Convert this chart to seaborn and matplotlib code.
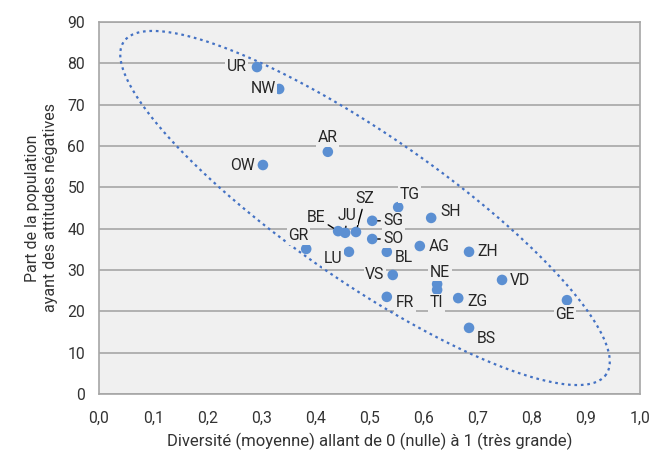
import numpy as np
import pandas as pd
import matplotlib
matplotlib.use("Agg")
import matplotlib.pyplot as plt
import seaborn as sns

# Données (cantons)
cantons = ["UR", "NW", "AR", "OW", "TG", "SH", "SG", "SZ", "JU", "BE", "SO", "GR",
           "LU", "BL", "AG", "ZH", "VS", "NE", "TI", "FR", "ZG", "VD", "GE", "BS"]
diversite = [0.292, 0.333, 0.423, 0.303, 0.553, 0.614, 0.505, 0.475, 0.455, 0.442,
             0.505, 0.383, 0.462, 0.532, 0.593, 0.684, 0.543, 0.625, 0.625, 0.532,
             0.664, 0.745, 0.865, 0.684]
attitudes_neg = [79.1, 73.8, 58.6, 55.4, 45.2, 42.6, 41.9, 39.2, 39.0, 39.4,
                 37.5, 35.1, 34.4, 34.4, 35.8, 34.4, 28.8, 26.6, 25.2, 23.5,
                 23.2, 27.6, 22.7, 16.0]

x_ticks = np.arange(0, 1.01, 0.1)
y_ticks = np.arange(0, 91, 10)

# décalage des étiquettes (pixels) et traits de rappel
offsets = {
    "UR": (-20, 1), "NW": (-16, 0), "AR": (0, 14), "OW": (-20, 0), "TG": (11, 13),
    "SH": (19, 6), "SG": (21, 0), "SZ": (9, 33), "JU": (2, 17), "BE": (-22, 14),
    "SO": (21, 0), "GR": (-8, 13), "LU": (-16, -7), "BL": (17, -6), "AG": (19, 0),
    "ZH": (19, 0), "VS": (-18, 0), "NE": (3, 12), "TI": (-1, -13), "FR": (18, -6),
    "ZG": (19, -3), "VD": (18, -1), "GE": (-2, -14), "BS": (17, -11),
}
leaders = {"SG", "SO", "SZ", "JU", "BE"}

df = pd.DataFrame({"canton": cantons, "x": diversite, "y": attitudes_neg})

sns.set_style("white")
plt.rcParams["font.family"] = ["Roboto", "DejaVu Sans"]

bg = "#f0f0f0"
grid_c = "#a6a6a6"
txt_c = "#333333"
dot_c = "#5b8fd2"

fig = plt.figure(figsize=(6.55, 4.54), dpi=100)
ax = fig.add_axes([99 / 655, 60 / 454, 541 / 655, 372 / 454])
ax.set_facecolor(bg)

sns.scatterplot(data=df, x="x", y="y", ax=ax, color=dot_c, s=58, edgecolor="none", zorder=3)

# ellipse pointillée (définie en pixels : centre, demi-axes, angle)
sx, sy = 541.0, 372.0 / 90.0
cx, cy = 0.4917, 45.0
a_px, b_px, ang = 293.0, 73.6, np.deg2rad(34.6)
t = np.linspace(0, 2 * np.pi, 400)
px = a_px * np.cos(t) * np.cos(ang) - b_px * np.sin(t) * np.sin(ang)
py = a_px * np.cos(t) * np.sin(ang) + b_px * np.sin(t) * np.cos(ang)
ax.plot(cx + px / sx, cy - py / sy, linestyle=(0, (1.2, 1.7)), color="#4472c4", lw=1.6, zorder=2)

# étiquettes
for c, xv, yv in zip(cantons, diversite, attitudes_neg):
    dx, dy = offsets[c]
    kw = {}
    if c in leaders:
        kw["arrowprops"] = dict(arrowstyle="-", color="black", lw=1, shrinkA=1, shrinkB=4)
    ax.annotate(c, (xv, yv), xytext=(dx, dy), textcoords="offset pixels",
                ha="center", va="center", fontsize=11.3, color="#262626",
                zorder=4, bbox=dict(boxstyle="square,pad=0.1", fc=bg, ec="none"), **kw)

ax.set_xlim(0, 1)
ax.set_ylim(0, 90)
ax.set_xticks(x_ticks)
ax.set_yticks(y_ticks)
ax.set_xticklabels([f"{v:.1f}".replace(".", ",") for v in x_ticks])
ax.set_yticklabels([f"{v:d}" for v in y_ticks])
ax.yaxis.grid(True, color=grid_c, lw=1.2)
ax.xaxis.grid(False)
ax.set_axisbelow(True)
for s in ax.spines.values():
    s.set_color(grid_c)
    s.set_linewidth(1.2)
ax.tick_params(axis="both", colors=txt_c, labelsize=11.3, length=4, width=1, color=grid_c)
ax.tick_params(axis="x", pad=8)
ax.tick_params(axis="y", pad=6)

ax.set_xlabel("Diversité (moyenne) allant de 0 (nulle) à 1 (très grande)",
              fontsize=12, color=txt_c)
ax.xaxis.set_label_coords(0.5, -0.105)
ax.set_ylabel("Part de la population\nayant des attitudes négatives",
              fontsize=11.5, color=txt_c, labelpad=7)

fig.savefig("out.png", dpi=100, facecolor="white")
